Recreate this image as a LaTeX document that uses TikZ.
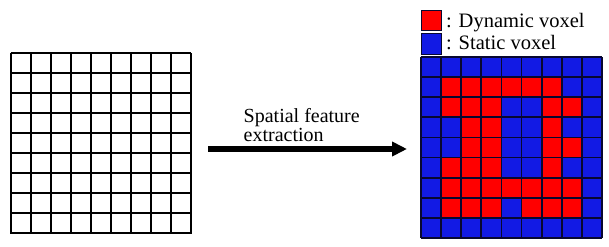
\documentclass[tikz,border=0pt]{standalone}
\usepackage{fontspec}
\setmainfont{Liberation Serif}
\usetikzlibrary{arrows.meta}
\definecolor{vred}{RGB}{255,0,0}
\definecolor{vblue}{RGB}{18,26,228}
\definecolor{vline}{RGB}{8,8,48}
\tikzset{
  gridline/.style={line width=2pt, black},
  voxline/.style={line width=1.8pt, vline},
  legendbox/.style={draw=vline, line width=1pt, minimum width=20pt, minimum height=20pt, inner sep=0pt},
  legendtext/.style={font=\fontsize{20.5}{21}\selectfont, inner sep=0pt, anchor=base west},
  bigarrow/.style={line width=6pt, -{Triangle[length=15pt,width=14pt]}},
}
\begin{document}
\begin{tikzpicture}[x=1pt,y=-1pt]
\useasboundingbox (0,0) rectangle (609,246);
\fill[white] (0,0) rectangle (609,246);
% left empty grid
\foreach \i in {0,...,9} {
  \draw[gridline] (10.5+\i*20.05,53) -- (10.5+\i*20.05,233.5);
  \draw[gridline] (10.5,53+\i*20.05) -- (191,53+\i*20.05);
}
\node[inner sep=0pt, minimum width=181pt, minimum height=181pt] (ingrid) at (100.7,143.2) {};
% right voxel grid
\def\cs{20.1}
\fill[vblue] (421,57) rectangle (602,238);
\foreach \r/\cols in {1/{1,2,3,4,5,6}, 2/{1,2,3,6,7}, 3/{2,3,6}, 4/{2,3,6,7}, 5/{1,2,3,6}, 6/{1,2,3,4,5,6,7}, 7/{1,2,3,5,6,7}} {
  \foreach \c in \cols {
    \fill[vred] (421+\c*\cs,57+\r*\cs) rectangle (421+\c*\cs+\cs,57+\r*\cs+\cs);
  }
}
\foreach \i in {0,...,9} {
  \draw[voxline] (421+\i*\cs,57) -- (421+\i*\cs,238);
  \draw[voxline] (421,57+\i*\cs) -- (602,57+\i*\cs);
}
\node[inner sep=0pt, minimum width=181pt, minimum height=181pt] (outgrid) at (511.5,147.5) {};
% legend
\node[legendbox, fill=vred] (redkey) at (431.5,21) {};
\node[legendbox, fill=vblue] (bluekey) at (431.5,44) {};
\node[legendtext] (redlabel) at (446,27.5) {: Dynamic voxel};
\node[legendtext] (bluelabel) at (446,49) {: Static voxel};
% arrow
\coordinate (arrstart) at (208,149);
\coordinate (arrend) at (407,149);
\draw[bigarrow] (arrstart) -- (arrend);
\node[font=\fontsize{20}{16.5}\selectfont, align=left, inner sep=0pt, anchor=south west] (arrlabel) at (243.5,141.5) {Spatial feature\\extraction};
\end{tikzpicture}
\end{document}
